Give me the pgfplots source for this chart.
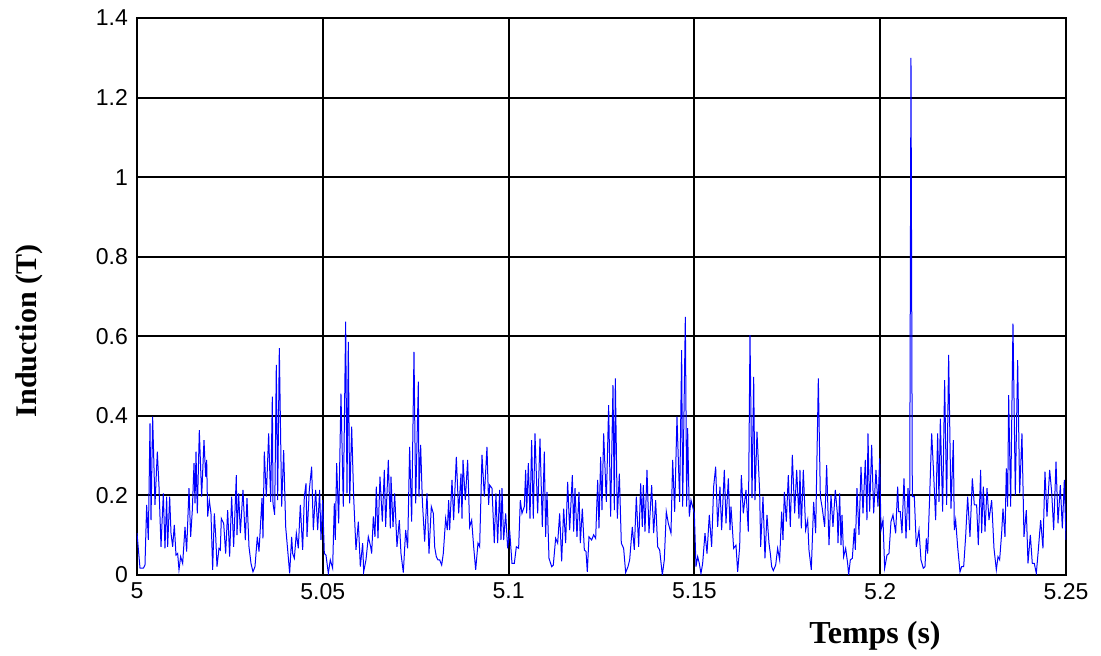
\documentclass[border=0pt]{standalone}
\usepackage{pgfplots}
\pgfplotsset{compat=1.18}
\usepackage{fontspec}
\setmainfont{Liberation Serif}
\newfontfamily\arial{Liberation Sans}
\begin{document}
\begin{tikzpicture}
\path[use as bounding box] (-68.5pt,-40.5pt) rectangle (482pt,287.5pt);
\begin{axis}[
  at={(0,0)}, anchor=south west,
  scale only axis, width=464.5pt, height=278.5pt,
  xmin=5, xmax=5.25, ymin=0, ymax=1.4,
  xtick={5,5.05,5.1,5.15,5.2,5.25},
  xticklabels={5,5.05,5.1,5.15,5.2,5.25},
  ytick={0,0.2,0.4,0.6,0.8,1,1.2,1.4},
  yticklabels={0,0.2,0.4,0.6,0.8,1,1.2,1.4},
  /pgf/number format/assume math mode=true,
  ticklabel style={font=\arial\fontsize{11.5pt}{13pt}\selectfont},
  xticklabel style={yshift=-0.5pt},
  yticklabel style={xshift=-1pt},
  major tick length=0pt,
  grid=major,
  major grid style={black, line width=1pt},
  axis line style={black, line width=1pt},
  clip=true,
]
\addplot[color={rgb,255:red,0;green,0;blue,255}, line width=0.5pt] table {
x y
5.00000 0.105
5.00081 0.017
5.00170 0.017
5.00215 0.025
5.00260 0.176
5.00305 0.088
5.00350 0.381
5.00377 0.138
5.00421 0.398
5.00484 0.176
5.00547 0.310
5.00592 0.222
5.00646 0.071
5.00708 0.205
5.00753 0.067
5.00798 0.197
5.00825 0.071
5.00879 0.197
5.00915 0.105
5.00960 0.071
5.01004 0.126
5.01049 0.050
5.01094 0.054
5.01130 0.013
5.01175 0.046
5.01229 0.029
5.01292 0.121
5.01336 0.059
5.01399 0.218
5.01444 0.096
5.01489 0.163
5.01534 0.281
5.01561 0.180
5.01588 0.310
5.01623 0.155
5.01677 0.364
5.01740 0.197
5.01803 0.339
5.01848 0.247
5.01875 0.289
5.01902 0.147
5.01946 0.188
5.01991 0.155
5.02036 0.013
5.02081 0.155
5.02117 0.100
5.02153 0.021
5.02206 0.067
5.02242 0.063
5.02269 0.142
5.02332 0.130
5.02386 0.054
5.02440 0.163
5.02493 0.046
5.02547 0.197
5.02601 0.071
5.02673 0.251
5.02691 0.100
5.02736 0.205
5.02781 0.105
5.02852 0.214
5.02915 0.088
5.02960 0.193
5.03014 0.071
5.03068 0.029
5.03121 0.008
5.03175 0.021
5.03238 0.096
5.03283 0.059
5.03364 0.193
5.03390 0.092
5.03426 0.310
5.03480 0.197
5.03543 0.356
5.03597 0.184
5.03642 0.448
5.03660 0.180
5.03705 0.151
5.03749 0.528
5.03785 0.188
5.03830 0.570
5.03893 0.172
5.03947 0.314
5.04001 0.121
5.04063 0.054
5.04108 0.004
5.04162 0.096
5.04189 0.054
5.04234 0.042
5.04288 0.105
5.04341 0.067
5.04395 0.176
5.04458 0.063
5.04503 0.197
5.04548 0.230
5.04575 0.096
5.04637 0.214
5.04700 0.272
5.04745 0.113
5.04808 0.214
5.04862 0.113
5.04915 0.214
5.04951 0.088
5.04996 0.188
5.05041 0.054
5.05086 0.050
5.05149 0.004
5.05202 0.038
5.05265 0.017
5.05310 0.180
5.05337 0.088
5.05373 0.281
5.05427 0.130
5.05489 0.456
5.05552 0.172
5.05615 0.637
5.05651 0.205
5.05687 0.586
5.05723 0.180
5.05777 0.373
5.05830 0.197
5.05893 0.063
5.05956 0.134
5.06010 0.021
5.06073 0.080
5.06100 0.008
5.06162 0.038
5.06225 0.096
5.06288 0.071
5.06315 0.054
5.06360 0.147
5.06404 0.096
5.06440 0.222
5.06485 0.092
5.06539 0.247
5.06602 0.134
5.06656 0.264
5.06691 0.121
5.06763 0.289
5.06817 0.117
5.06835 0.247
5.06889 0.121
5.06934 0.205
5.06996 0.071
5.07059 0.138
5.07104 0.054
5.07167 0.006
5.07230 0.113
5.07283 0.067
5.07337 0.322
5.07391 0.134
5.07454 0.561
5.07499 0.180
5.07571 0.486
5.07589 0.197
5.07633 0.327
5.07678 0.188
5.07741 0.084
5.07804 0.205
5.07858 0.054
5.07920 0.172
5.07974 0.155
5.08010 0.071
5.08055 0.046
5.08100 0.038
5.08145 0.038
5.08199 0.025
5.08243 0.054
5.08306 0.142
5.08351 0.113
5.08387 0.188
5.08414 0.113
5.08477 0.239
5.08521 0.138
5.08593 0.297
5.08656 0.155
5.08719 0.255
5.08746 0.142
5.08773 0.289
5.08835 0.188
5.08898 0.289
5.08952 0.121
5.09006 0.138
5.09060 0.071
5.09114 0.013
5.09176 0.080
5.09221 0.071
5.09284 0.302
5.09347 0.197
5.09418 0.322
5.09463 0.176
5.09490 0.226
5.09553 0.218
5.09615 0.080
5.09660 0.205
5.09705 0.080
5.09759 0.214
5.09795 0.088
5.09822 0.218
5.09867 0.088
5.09921 0.155
5.09974 0.067
5.10028 0.113
5.10091 0.029
5.10154 0.029
5.10208 0.071
5.10270 0.067
5.10315 0.188
5.10360 0.155
5.10423 0.172
5.10459 0.264
5.10486 0.155
5.10531 0.281
5.10576 0.142
5.10620 0.339
5.10665 0.142
5.10710 0.356
5.10782 0.155
5.10845 0.343
5.10907 0.121
5.10961 0.310
5.10997 0.096
5.11033 0.209
5.11087 0.042
5.11159 0.021
5.11203 0.025
5.11266 0.092
5.11320 0.080
5.11374 0.155
5.11428 0.034
5.11482 0.167
5.11535 0.080
5.11589 0.234
5.11643 0.113
5.11715 0.251
5.11751 0.109
5.11787 0.218
5.11840 0.096
5.11894 0.209
5.11930 0.080
5.11984 0.167
5.12038 0.063
5.12083 0.059
5.12118 0.008
5.12163 0.096
5.12235 0.088
5.12289 0.101
5.12343 0.092
5.12397 0.239
5.12432 0.117
5.12477 0.297
5.12513 0.163
5.12558 0.356
5.12630 0.184
5.12692 0.427
5.12746 0.147
5.12809 0.477
5.12845 0.163
5.12872 0.494
5.12926 0.142
5.12980 0.255
5.13033 0.080
5.13096 0.067
5.13150 0.006
5.13213 0.021
5.13258 0.038
5.13329 0.121
5.13383 0.063
5.13437 0.197
5.13500 0.071
5.13554 0.230
5.13598 0.121
5.13625 0.226
5.13670 0.109
5.13724 0.264
5.13778 0.105
5.13850 0.226
5.13903 0.105
5.13957 0.188
5.14011 0.071
5.14065 0.063
5.14137 0.000
5.14190 0.038
5.14244 0.159
5.14298 0.130
5.14370 0.105
5.14415 0.289
5.14469 0.159
5.14531 0.398
5.14603 0.184
5.14657 0.565
5.14684 0.172
5.14756 0.649
5.14792 0.172
5.14818 0.369
5.14863 0.147
5.14908 0.188
5.14998 0.155
5.15043 0.021
5.15088 0.046
5.15132 0.029
5.15177 0.004
5.15222 0.029
5.15285 0.105
5.15339 0.054
5.15401 0.151
5.15464 0.071
5.15518 0.222
5.15572 0.272
5.15626 0.121
5.15688 0.222
5.15733 0.113
5.15805 0.264
5.15850 0.130
5.15913 0.243
5.15958 0.113
5.15985 0.172
5.16056 0.067
5.16119 0.075
5.16164 0.008
5.16218 0.071
5.16263 0.251
5.16316 0.155
5.16388 0.214
5.16451 0.109
5.16496 0.603
5.16550 0.193
5.16595 0.498
5.16630 0.188
5.16684 0.360
5.16756 0.209
5.16783 0.071
5.16846 0.197
5.16899 0.042
5.16953 0.151
5.17007 0.080
5.17043 0.054
5.17079 0.021
5.17124 0.011
5.17187 0.025
5.17240 0.067
5.17294 0.038
5.17348 0.159
5.17384 0.088
5.17420 0.209
5.17474 0.134
5.17527 0.251
5.17581 0.121
5.17635 0.302
5.17698 0.155
5.17752 0.264
5.17814 0.142
5.17841 0.264
5.17877 0.117
5.17931 0.264
5.17994 0.113
5.18048 0.138
5.18083 0.063
5.18146 0.013
5.18209 0.184
5.18263 0.105
5.18335 0.494
5.18389 0.197
5.18442 0.167
5.18505 0.121
5.18559 0.276
5.18622 0.075
5.18676 0.201
5.18729 0.121
5.18792 0.214
5.18846 0.155
5.18864 0.080
5.18909 0.205
5.18945 0.075
5.18972 0.151
5.19016 0.046
5.19070 0.067
5.19124 0.029
5.19151 0.000
5.19196 0.038
5.19250 0.042
5.19303 0.117
5.19330 0.063
5.19375 0.218
5.19429 0.101
5.19483 0.272
5.19537 0.155
5.19599 0.289
5.19644 0.138
5.19671 0.356
5.19716 0.159
5.19770 0.327
5.19824 0.155
5.19886 0.264
5.19940 0.172
5.19985 0.293
5.20021 0.113
5.20075 0.138
5.20120 0.017
5.20182 0.050
5.20236 0.054
5.20290 0.134
5.20344 0.151
5.20416 0.105
5.20470 0.222
5.20496 0.159
5.20541 0.159
5.20586 0.105
5.20640 0.243
5.20694 0.092
5.20748 0.218
5.20792 0.113
5.20828 1.300
5.20864 0.197
5.20918 0.197
5.20972 0.071
5.21044 0.113
5.21097 0.038
5.21160 0.017
5.21205 0.021
5.21241 0.092
5.21277 0.054
5.21331 0.197
5.21385 0.356
5.21438 0.255
5.21492 0.138
5.21546 0.356
5.21582 0.184
5.21618 0.393
5.21680 0.159
5.21734 0.490
5.21788 0.176
5.21842 0.553
5.21905 0.167
5.21968 0.339
5.21994 0.113
5.22030 0.138
5.22084 0.071
5.22147 0.008
5.22192 0.021
5.22246 0.021
5.22299 0.096
5.22353 0.197
5.22416 0.096
5.22479 0.243
5.22533 0.176
5.22595 0.176
5.22640 0.075
5.22703 0.264
5.22730 0.105
5.22775 0.222
5.22820 0.109
5.22874 0.218
5.22927 0.138
5.22999 0.188
5.23062 0.067
5.23125 0.013
5.23170 0.046
5.23214 0.038
5.23268 0.105
5.23304 0.167
5.23358 0.096
5.23394 0.268
5.23430 0.172
5.23457 0.452
5.23510 0.172
5.23573 0.632
5.23636 0.201
5.23699 0.540
5.23753 0.205
5.23815 0.356
5.23869 0.096
5.23932 0.163
5.23977 0.029
5.24040 0.101
5.24093 0.029
5.24147 0.029
5.24201 0.004
5.24255 0.063
5.24318 0.138
5.24380 0.067
5.24434 0.260
5.24488 0.147
5.24560 0.264
5.24614 0.209
5.24668 0.113
5.24731 0.285
5.24785 0.130
5.24847 0.226
5.24901 0.117
5.24955 0.239
5.25000 0.088
};
\end{axis}
\node[rotate=90, font=\bfseries\fontsize{15pt}{17pt}\selectfont] at (-54pt,122pt) {Induction (T)};
\node[font=\bfseries\fontsize{16pt}{18pt}\selectfont] at (369pt,-30.5pt) {Temps (s)};
\end{tikzpicture}
\end{document}
